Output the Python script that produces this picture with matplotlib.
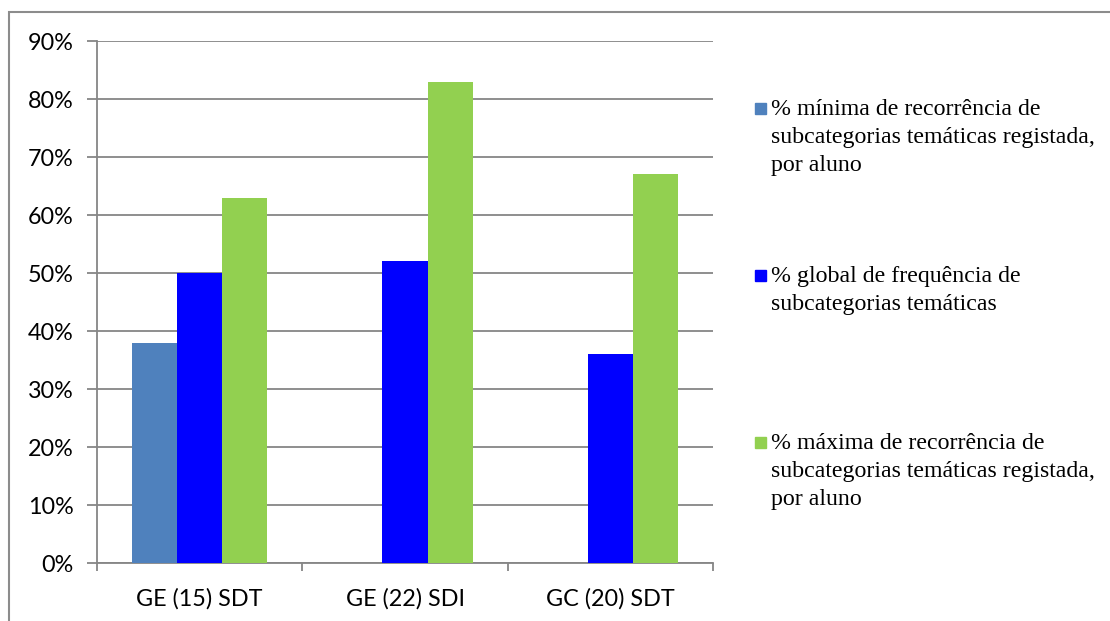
import numpy as np
import matplotlib.pyplot as plt
from matplotlib.patches import Rectangle

grupos = ["GE (15) SDT", "GE (22) SDI", "GC (20) SDT"]
minima = [38, 0, 0]
glob = [50, 52, 36]
maxima = [63, 83, 67]

series = [
    (minima, "#4F81BD", ["% mínima de recorrência de",
                         "subcategorias temáticas registada,", "por aluno"]),
    (glob, "#0000FF", ["% global de frequência de",
                       "subcategorias temáticas"]),
    (maxima, "#92D050", ["% máxima de recorrência de",
                         "subcategorias temáticas registada,", "por aluno"]),
]

cinza = "#868686"
W, H = 1110, 621

fig = plt.figure(figsize=(W / 100, H / 100), dpi=100)
ax = fig.add_axes([97 / W, 1 - 563 / H, (713 - 97) / W, (563 - 41) / H])

x = np.arange(len(grupos))
larg = 0.22
for i, (vals, cor, _) in enumerate(series):
    ax.bar(x + (i - 1) * larg, vals, larg, color=cor, zorder=3)

ax.set_xlim(-0.5, len(grupos) - 0.5)
ax.set_ylim(0, 90)
ax.set_yticks(np.arange(0, 91, 10))
ax.set_yticklabels([f"{v}%" for v in range(0, 91, 10)], family="Lato", fontsize=16.8)
ax.yaxis.grid(True, color=cinza, lw=1.3, zorder=0)
ax.tick_params(axis="y", length=7, width=1.3, color=cinza, pad=10)

# ticks at the group boundaries, labels in the middle
ax.set_xticks(np.arange(len(grupos) + 1) - 0.5)
ax.set_xticklabels([])
ax.tick_params(axis="x", which="major", length=6, width=1.3, color=cinza, direction="out")
ax.set_xticks(x, minor=True)
ax.set_xticklabels(grupos, minor=True, family="Lato", fontsize=16.8)
ax.tick_params(axis="x", which="minor", length=0, pad=18)

for s in ["top", "right"]:
    ax.spines[s].set_visible(False)
for s in ["left", "bottom"]:
    ax.spines[s].set_color(cinza)
    ax.spines[s].set_linewidth(1.3)

# legend drawn by hand so the square sits on the first line
pos_y = [108, 275, 442]
for (vals, cor, linhas), yp in zip(series, pos_y):
    fig.patches.append(Rectangle((755 / W, 1 - (yp + 5.5) / H), 11 / W, 11 / H,
                                 transform=fig.transFigure, color=cor))
    for k, linha in enumerate(linhas):
        fig.text(771 / W, 1 - (yp + 7 + 28 * k) / H, linha,
                 family="Liberation Serif", fontsize=17.2,
                 va="baseline", ha="left")

# outer frame
fig.patches.append(Rectangle((9 / W, -0.1), 1.2, 1 - 12 / H + 0.1,
                             transform=fig.transFigure, fill=False,
                             ec="#8c8c8c", lw=1.5))

fig.savefig("out.png", dpi=100)
